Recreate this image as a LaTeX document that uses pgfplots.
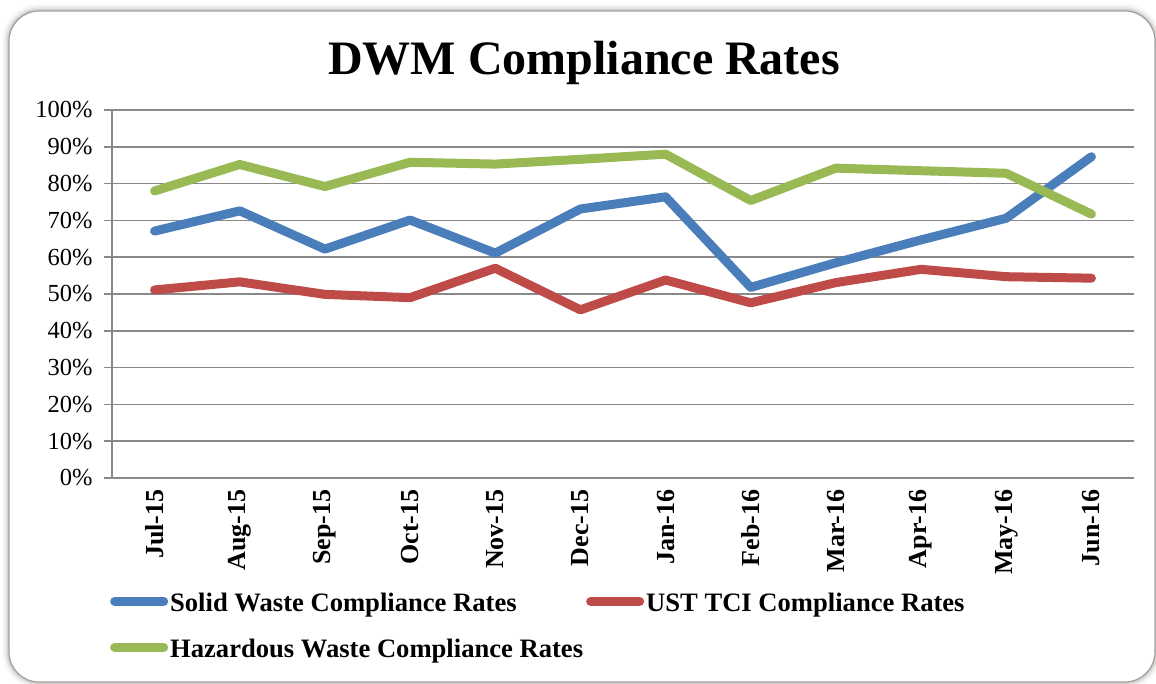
\documentclass[border=0pt]{standalone}
\usepackage{fontspec}
\setmainfont{Liberation Serif}
\usepackage{pgfplots}
\pgfplotsset{compat=1.18}
\definecolor{swblue}{HTML}{4A7EBB}
\definecolor{ustred}{HTML}{BE4B48}
\definecolor{hwgreen}{HTML}{98B954}
\definecolor{axisgray}{HTML}{898989}
\definecolor{shadowc}{HTML}{8E887E}
\begin{document}
\begin{tikzpicture}[x=1pt,y=1pt]
\useasboundingbox (0,0) rectangle (1156,683);
\foreach \w/\o in {14/0.05,10/0.08,7/0.12,4/0.2}{
  \draw[line width=\w pt, rounded corners=30pt, draw=shadowc, opacity=\o] (9,1) rectangle (1155,672);
}
\fill[white, rounded corners=30pt] (9,1) rectangle (1155,672);
\draw[rounded corners=30pt, draw=gray!75, line width=1.2pt] (9,1) rectangle (1155,672);
\node[anchor=base, font=\fontsize{48}{56}\selectfont\bfseries] at (584,608) {DWM Compliance Rates};
\begin{axis}[
  at={(112pt,205pt)}, anchor=south west,
  scale only axis, width=1022pt, height=368pt,
  xmin=-0.5, xmax=11.5, ymin=0, ymax=100,
  axis x line*=bottom, axis y line*=left,
  axis line style={draw=axisgray, line width=1.5pt},
  ymajorgrids, grid style={draw=axisgray, line width=1.5pt},
  xtick={0,...,11},
  xticklabels={Jul-15,Aug-15,Sep-15,Oct-15,Nov-15,Dec-15,Jan-16,Feb-16,Mar-16,Apr-16,May-16,Jun-16},
  minor xtick={-0.5,0.5,...,11.5},
  xtick style={draw=none},
  minor tick style={draw=axisgray, line width=1.5pt},
  ytick={0,10,...,100},
  ytick style={draw=axisgray, line width=1.5pt},
  tick align=outside, major tick length=8pt, minor tick length=8pt,
  yticklabel={\pgfmathprintnumber{\tick}\%},
  /pgf/number format/assume math mode=true,
  xticklabel style={rotate=90, anchor=east, font=\fontsize{26}{30}\selectfont\bfseries},
  yticklabel style={font=\fontsize{24.5}{28}\selectfont, xshift=-8pt},
  legend columns=2,
  legend cell align=left,
  legend style={draw=none, fill=none, at={(-0.002,-0.313)}, anchor=north west,
    inner sep=0pt, column sep=0pt, row sep=26pt,
    font=\fontsize{26.6}{30}\selectfont\bfseries, nodes={inner sep=0pt}},
  legend image code/.code={\draw[#1, line width=9pt, line cap=round] (4.5pt,2pt) -- (53.5pt,2pt);},
]
\addplot[color=swblue, line width=9pt, line cap=round, line join=round] coordinates {
(0,67.1) (1,72.6) (2,62.2) (3,70.1) (4,61.1) (5,73.1) (6,76.4) (7,51.8) (8,58.5) (9,64.7) (10,70.6) (11,87.3)};
\addlegendentry{\makebox[418pt][l]{\hspace{2pt}Solid Waste Compliance Rates}}
\addplot[color=ustred, line width=9pt, line cap=round, line join=round] coordinates {
(0,51.1) (1,53.3) (2,49.9) (3,49.0) (4,57.0) (5,45.7) (6,53.8) (7,47.6) (8,53.1) (9,56.7) (10,54.7) (11,54.3)};
\addlegendentry{\makebox[418pt][l]{\hspace{2pt}UST TCI Compliance Rates}}
\addplot[color=hwgreen, line width=9pt, line cap=round, line join=round] coordinates {
(0,78.0) (1,85.2) (2,79.2) (3,85.8) (4,85.3) (5,86.6) (6,88.0) (7,75.4) (8,84.2) (9,83.5) (10,82.8) (11,71.7)};
\addlegendentry{\makebox[418pt][l]{\hspace{2pt}Hazardous Waste Compliance Rates}}
\end{axis}
\end{tikzpicture}
\end{document}
